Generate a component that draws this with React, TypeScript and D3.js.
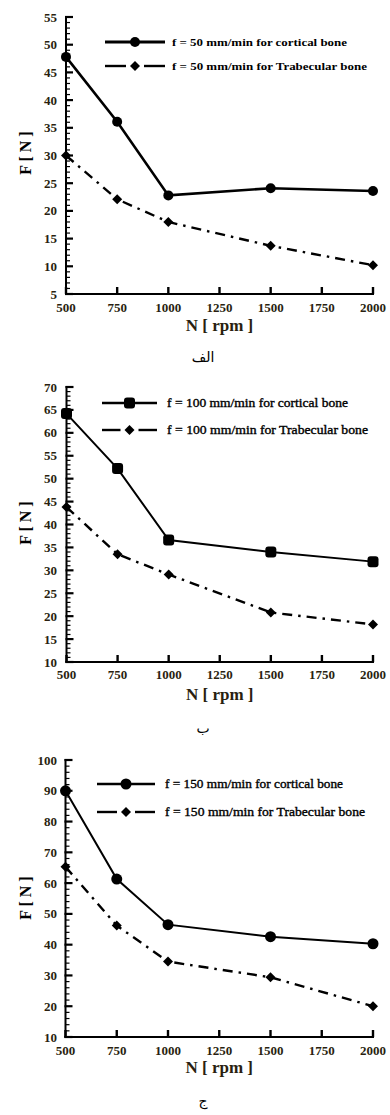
import React from "react";
import * as d3 from "d3";

// ---- data ----
const rpm = [500, 750, 1000, 1500, 2000];
const xTicks = [500, 750, 1000, 1250, 1500, 1750, 2000];

const cortical50 = [47.8, 36.1, 22.8, 24.1, 23.6];
const trabecular50 = [30.0, 22.1, 18.0, 13.7, 10.2];
const cortical100 = [64.2, 52.2, 36.6, 34.0, 31.9];
const trabecular100 = [43.8, 33.5, 29.1, 20.8, 18.2];
const cortical150 = [90.0, 61.3, 46.5, 42.6, 40.3];
const trabecular150 = [65.3, 46.2, 34.5, 29.4, 20.0];

const yTicks50 = [5, 10, 15, 20, 25, 30, 35, 40, 45, 50, 55];
const yTicks100 = [10, 15, 20, 25, 30, 35, 40, 45, 50, 55, 60, 65, 70];
const yTicks150 = [10, 20, 30, 40, 50, 60, 70, 80, 90, 100];

const legend50 = ["f = 50 mm/min for cortical bone", "f = 50 mm/min for Trabecular  bone"];
const legend100 = ["f = 100 mm/min for cortical bone", "f = 100 mm/min for Trabecular  bone"];
const legend150 = ["f = 150 mm/min for cortical bone", "f = 150 mm/min for Trabecular bone"];

const captions = ["الف", "ب", "ج"];
const xTitle = "N [ rpm ]";
const yTitle = "F [ N ]";

type PanelCfg = {
  x0: number; x1: number; yTop: number; yBot: number;
  domain: [number, number]; yTicks: number[]; minorStep: number;
  cortical: number[]; trabecular: number[]; legend: string[];
  legendX0: number; legendX1: number; legendTextX: number; legendY: [number, number];
  legendLen: [number, number]; legendBold: boolean;
  tickLabelY: number; xTitleY: number; yTitleCY: number; caption: string; captionY: number;
  solidW: number; marker: "circle" | "square"; markerR: number;
};

const panels: PanelCfg[] = [
  {
    x0: 66, x1: 373, yTop: 17, yBot: 294, domain: [5, 55], yTicks: yTicks50, minorStep: 1,
    cortical: cortical50, trabecular: trabecular50, legend: legend50,
    legendX0: 105, legendX1: 165, legendTextX: 172, legendY: [42, 66], legendLen: [175, 195], legendBold: true,
    tickLabelY: 312, xTitleY: 331, yTitleCY: 153, caption: captions[0], captionY: 362,
    solidW: 2.6, marker: "circle", markerR: 5,
  },
  {
    x0: 66.5, x1: 373, yTop: 387, yBot: 662, domain: [10, 70], yTicks: yTicks100, minorStep: 1,
    cortical: cortical100, trabecular: trabecular100, legend: legend100,
    legendX0: 102, legendX1: 157, legendTextX: 167, legendY: [403, 430], legendLen: [181, 201], legendBold: false,
    tickLabelY: 679, xTitleY: 700, yTitleCY: 523, caption: captions[1], captionY: 733,
    solidW: 2, marker: "square", markerR: 5.5,
  },
  {
    x0: 65.5, x1: 373, yTop: 760, yBot: 1037, domain: [10, 100], yTicks: yTicks150, minorStep: 2,
    cortical: cortical150, trabecular: trabecular150, legend: legend150,
    legendX0: 97, legendX1: 155, legendTextX: 165, legendY: [784, 812], legendLen: [178, 200], legendBold: false,
    tickLabelY: 1055, xTitleY: 1073, yTitleCY: 898, caption: captions[2], captionY: 1106,
    solidW: 2, marker: "circle", markerR: 5.5,
  },
];

const SERIF = "'Liberation Serif', 'Times New Roman', serif";
const LABEL_COLOR = "#2a1f10";
const DASHDOT = "10,6,2.5,6";

function diamondPath(cx: number, cy: number, r: number) {
  return `M${cx},${cy - r}L${cx + r},${cy}L${cx},${cy + r}L${cx - r},${cy}Z`;
}

function CorticalMarker({ cx, cy, cfg }: { cx: number; cy: number; cfg: PanelCfg }) {
  if (cfg.marker === "square") {
    const r = cfg.markerR;
    return <rect x={cx - r} y={cy - r} width={2 * r} height={2 * r} rx={3} fill="#000" />;
  }
  return <circle cx={cx} cy={cy} r={cfg.markerR} fill="#000" />;
}

function Panel({ cfg }: { cfg: PanelCfg }) {
  const x = d3.scaleLinear().domain([500, 2000]).range([cfg.x0, cfg.x1]);
  const y = d3.scaleLinear().domain(cfg.domain).range([cfg.yBot, cfg.yTop]);
  const line = d3.line<number>().x((_, i) => x(rpm[i])).y((d) => y(d));
  const minors = d3.range(cfg.domain[0], cfg.domain[1] + 0.001, cfg.minorStep)
    .filter((v) => !cfg.yTicks.includes(v));
  const legMid = (cfg.legendX0 + cfg.legendX1) / 2;
  const xMid = (cfg.x0 + cfg.x1) / 2;
  return (
    <g>
      {minors.map((v) => (
        <line key={"m" + v} x1={cfg.x0} x2={cfg.x0 + 4} y1={y(v)} y2={y(v)} stroke="#000" strokeWidth={1.2} />
      ))}
      {cfg.yTicks.map((v) => (
        <g key={"y" + v}>
          <line x1={cfg.x0 - 1} x2={cfg.x0 + 7} y1={y(v)} y2={y(v)} stroke="#000" strokeWidth={2.2} />
          <text x={57} y={y(v)} dy="0.35em" textAnchor="end" fontFamily={SERIF} fontWeight="bold"
            fontSize={13} fill={LABEL_COLOR}>{v}</text>
        </g>
      ))}
      {xTicks.map((v) => (
        <g key={"x" + v}>
          <line x1={x(v)} x2={x(v)} y1={cfg.yBot} y2={cfg.yBot - 7} stroke="#000" strokeWidth={2.4} />
          <text x={x(v)} y={cfg.tickLabelY} textAnchor="middle" fontFamily={SERIF} fontWeight="bold"
            fontSize={13} fill={LABEL_COLOR}>{v}</text>
        </g>
      ))}
      <line x1={cfg.x0} x2={cfg.x0} y1={cfg.yTop - 1} y2={cfg.yBot + 1} stroke="#000" strokeWidth={2} />
      <line x1={cfg.x0 - 1} x2={cfg.x1 + 1} y1={cfg.yBot} y2={cfg.yBot} stroke="#000" strokeWidth={2} />
      <text x={xMid} y={cfg.xTitleY} textAnchor="middle" fontFamily={SERIF} fontWeight="bold" fontSize={17}
        fill={LABEL_COLOR}>{xTitle}</text>
      <text transform={`translate(31,${cfg.yTitleCY}) rotate(-90)`} textAnchor="middle" fontFamily={SERIF}
        fontWeight="bold" fontSize={16} fill="#000">{yTitle}</text>
      <path d={line(cfg.trabecular) || ""} fill="none" stroke="#000" strokeWidth={2.4} strokeDasharray={DASHDOT} />
      <path d={line(cfg.cortical) || ""} fill="none" stroke="#000" strokeWidth={cfg.solidW} />
      {cfg.trabecular.map((v, i) => (
        <path key={"t" + i} d={diamondPath(x(rpm[i]), y(v), 5)} fill="#000" />
      ))}
      {cfg.cortical.map((v, i) => (
        <CorticalMarker key={"c" + i} cx={x(rpm[i])} cy={y(v)} cfg={cfg} />
      ))}
      <line x1={cfg.legendX0} x2={cfg.legendX1} y1={cfg.legendY[0]} y2={cfg.legendY[0]} stroke="#000" strokeWidth={cfg.solidW + 0.4} />
      <CorticalMarker cx={legMid} cy={cfg.legendY[0]} cfg={cfg} />
      <line x1={cfg.legendX0} x2={legMid - 9} y1={cfg.legendY[1]} y2={cfg.legendY[1]} stroke="#000" strokeWidth={2.4} />
      <line x1={legMid + 9} x2={cfg.legendX1} y1={cfg.legendY[1]} y2={cfg.legendY[1]} stroke="#000" strokeWidth={2.4} />
      <path d={diamondPath(legMid, cfg.legendY[1], 5)} fill="#000" />
      {cfg.legend.map((t, i) => (
        <text key={"l" + i} x={cfg.legendTextX} y={cfg.legendY[i]} dy="0.35em" fontFamily={SERIF}
          fontWeight={cfg.legendBold ? "bold" : "normal"} fontSize={cfg.legendBold ? 11 : 12} fill="#000"
          stroke={cfg.legendBold ? "none" : "#000"} strokeWidth={cfg.legendBold ? 0 : 0.35}
          textLength={cfg.legendLen[i]} lengthAdjust="spacingAndGlyphs">{t}</text>
      ))}
      <text x={203} y={cfg.captionY} textAnchor="middle" fontFamily="'DejaVu Sans', sans-serif" fontSize={14}
        fill="#000">{cfg.caption}</text>
    </g>
  );
}

export default function App() {
  return (
    <svg width={390} height={1115} style={{ position: "absolute", left: 0, top: 0, background: "#fff" }}>
      <rect width={390} height={1115} fill="#fff" />
      {panels.map((p, i) => (
        <Panel key={i} cfg={p} />
      ))}
    </svg>
  );
}
